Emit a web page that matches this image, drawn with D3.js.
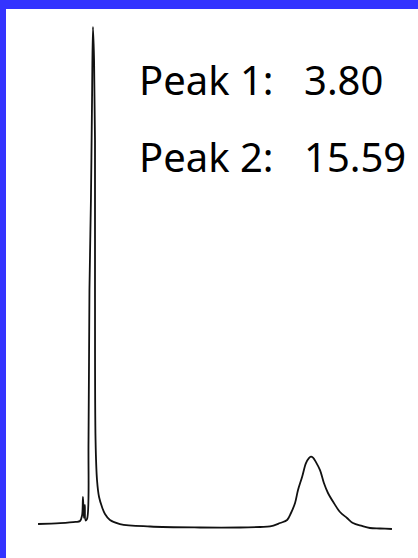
<!DOCTYPE html>
<html>
<head>
<meta charset="utf-8">
<script src="https://cdn.jsdelivr.net/npm/d3@7"></script>
<style>
  body { margin: 0; background: #fff; }
  svg { display: block; }
</style>
</head>
<body>
<div id="chart"></div>
<script>
/* CONSTANTS AND GLOBALS */
const width = 418,
  height = 558;

// retention time (min) and detector signal (arbitrary units)
const time = [0.83, 2.02, 2.86, 3.10, 3.21, 3.26, 3.31, 3.36, 3.40, 3.48, 3.56, 3.61, 3.69, 3.75, 3.80,
  3.86, 3.91, 3.91, 3.94, 4.02, 4.13, 4.29, 4.45, 4.72, 5.26, 6.89, 9.59, 11.76, 12.84, 13.38,
  13.92, 14.30, 14.51, 14.73, 14.89, 15.11, 15.32, 15.48, 15.59, 15.70, 15.86, 16.08, 16.29, 16.51,
  16.83, 17.16, 17.54, 17.86, 18.35, 18.78, 19.32, 19.97];
const signal = [1.19, 1.35, 1.6, 1.79, 2.9, 6.6, 2.4, 5.0, 1.9, 2.2, 17.9, 47.7, 65.6, 85.5, 100,
  93.4, 77.5, 47.7, 17.9, 9.9, 6.56, 4.57, 3.18, 1.99, 1.19, 0.7, 0.5, 0.5, 0.6, 0.7,
  1.39, 1.99, 3.38, 5.37, 7.95, 10.54, 13.3, 14.3, 14.6, 14.4, 13.5, 11.9, 9.34, 7.36,
  5.37, 3.58, 2.39, 1.39, 0.8, 0.4, 0.3, 0.2];

const peakNames = ["Peak 1:", "Peak 2:"];
const peakTimes = ["3.80", "15.59"];

const data = time.map((t, i) => ({ t: t, v: signal[i] }));

/* SCALES */
const xScale = d3.scaleLinear()
  .domain([0, 20])
  .range([22.7, 392.5]);

const yScale = d3.scaleLinear()
  .domain([0, 100])
  .range([530, 27]);

/* SVG */
const svg = d3.select("#chart")
  .append("svg")
  .attr("width", width)
  .attr("height", height);

svg.append("rect")
  .attr("width", width)
  .attr("height", height)
  .attr("fill", "#fff");

// blue frame along top and left
svg.append("rect")
  .attr("x", 0).attr("y", 0)
  .attr("width", width).attr("height", 9)
  .attr("fill", "#3333ff");
svg.append("rect")
  .attr("x", 0).attr("y", 0)
  .attr("width", 6).attr("height", height)
  .attr("fill", "#3333ff");

// chromatogram trace
const line = d3.line()
  .x(d => xScale(d.t))
  .y(d => yScale(d.v))
  .curve(d3.curveCatmullRom.alpha(0.5));

svg.append("path")
  .datum(data)
  .attr("d", line)
  .attr("fill", "none")
  .attr("stroke", "#111")
  .attr("stroke-width", 1.8)
  .attr("stroke-linejoin", "round");

// peak labels
const labels = svg.selectAll("g.peak")
  .data(peakNames)
  .join("g")
  .attr("class", "peak")
  .attr("transform", (d, i) => `translate(0, ${95 + i * 77})`);

labels.append("text")
  .attr("x", 139)
  .attr("font-family", "'Noto Sans', 'DejaVu Sans', sans-serif")
  .attr("font-size", 40)
  .attr("fill", "#000")
  .text(d => d);

labels.append("text")
  .attr("x", 304)
  .attr("font-family", "'Noto Sans', 'DejaVu Sans', sans-serif")
  .attr("font-size", 40)
  .attr("fill", "#000")
  .text((d, i) => peakTimes[i]);
</script>
</body>
</html>
